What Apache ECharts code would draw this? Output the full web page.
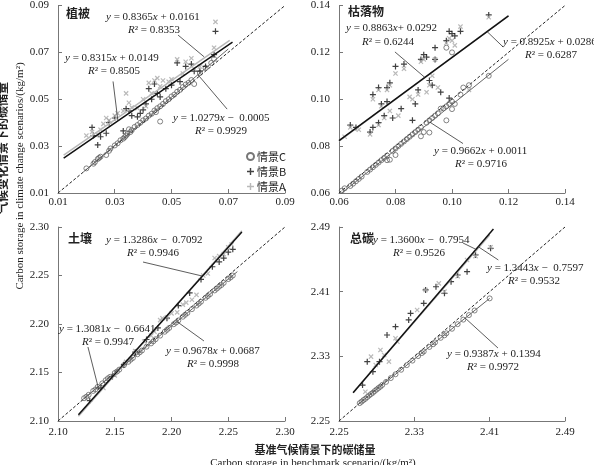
<!DOCTYPE html>
<html>
<head>
<meta charset="utf-8">
<script src="https://cdn.jsdelivr.net/npm/echarts@6/dist/echarts.min.js"></script>
<style>
html, body { margin: 0; padding: 0; background: #fff; }
#chart { width: 594px; height: 465px; }
</style>
</head>
<body>
<div id="chart"></div>
<script>
// 植被
var vegC = [[0.020,0.0205],[0.0225,0.0225],[0.023,0.0232],[0.024,0.0245],[0.0245,0.0250],[0.025,0.0255],[0.027,0.0262],[0.028,0.0280],[0.0285,0.0290],[0.030,0.0303],[0.031,0.0312],[0.032,0.0325],[0.033,0.0332],[0.0335,0.0338],[0.034,0.0345],[0.0345,0.0352],[0.035,0.0372],[0.0355,0.0360],[0.036,0.0368],[0.037,0.0382],[0.038,0.0390],[0.039,0.0400],[0.040,0.0410],[0.041,0.0418],[0.042,0.0430],[0.043,0.0438],[0.044,0.0452],[0.0445,0.0445],[0.045,0.0462],[0.046,0.0405],[0.046,0.0470],[0.047,0.0480],[0.048,0.0492],[0.049,0.0500],[0.050,0.0512],[0.051,0.0520],[0.052,0.0532],[0.053,0.0540],[0.054,0.0552],[0.055,0.0563],[0.056,0.0570],[0.057,0.0582],[0.058,0.0565],[0.060,0.0612],[0.062,0.0633],[0.064,0.0655],[0.065,0.0672]];
var vegB = [[0.022,0.0380],[0.0225,0.0345],[0.024,0.0305],[0.025,0.0340],[0.027,0.0355],[0.028,0.0400],[0.030,0.0420],[0.033,0.0365],[0.034,0.0460],[0.035,0.0450],[0.036,0.0430],[0.038,0.0425],[0.039,0.0440],[0.040,0.0455],[0.041,0.0480],[0.042,0.0545],[0.043,0.0500],[0.044,0.0565],[0.045,0.0525],[0.046,0.0510],[0.048,0.0545],[0.050,0.0560],[0.052,0.0655],[0.053,0.0575],[0.055,0.0640],[0.057,0.0650],[0.058,0.0620],[0.060,0.0620],[0.062,0.0640],[0.065,0.0690],[0.0655,0.0790]];
var vegA = [[0.020,0.0345],[0.022,0.0360],[0.024,0.0350],[0.025,0.0370],[0.026,0.0395],[0.027,0.0420],[0.028,0.0410],[0.030,0.0430],[0.031,0.0440],[0.033,0.0450],[0.034,0.0525],[0.035,0.0485],[0.036,0.0465],[0.038,0.0462],[0.040,0.0500],[0.041,0.0470],[0.042,0.0570],[0.043,0.0525],[0.044,0.0580],[0.045,0.0590],[0.046,0.0555],[0.047,0.0580],[0.049,0.0575],[0.050,0.0585],[0.052,0.0670],[0.054,0.0610],[0.055,0.0660],[0.057,0.0675],[0.058,0.0630],[0.060,0.0640],[0.065,0.0720],[0.0655,0.0830]];

// 枯落物
var litC = [[0.061,0.0610],[0.062,0.0620],[0.064,0.0630],[0.065,0.0640],[0.066,0.0650],[0.067,0.0660],[0.068,0.0670],[0.070,0.0690],[0.071,0.0700],[0.072,0.0710],[0.073,0.0720],[0.074,0.0730],[0.075,0.0740],[0.076,0.0750],[0.077,0.0740],[0.077,0.0760],[0.078,0.0742],[0.079,0.0780],[0.080,0.0790],[0.080,0.0762],[0.081,0.0800],[0.082,0.0810],[0.083,0.0820],[0.084,0.0830],[0.085,0.0840],[0.086,0.0850],[0.087,0.0860],[0.088,0.0870],[0.089,0.0880],[0.089,0.0842],[0.090,0.0860],[0.091,0.0900],[0.092,0.0858],[0.092,0.0910],[0.093,0.0920],[0.094,0.0930],[0.095,0.0940],[0.096,0.0960],[0.097,0.0962],[0.098,0.0910],[0.098,0.0970],[0.099,0.0980],[0.100,0.0958],[0.100,0.0990],[0.101,0.0980],[0.103,0.1020],[0.104,0.1050],[0.106,0.1060],[0.113,0.1100],[0.100,0.1200],[0.098,0.1220]];
var litB = [[0.064,0.0890],[0.066,0.0880],[0.071,0.0860],[0.072,0.0880],[0.072,0.1020],[0.074,0.1050],[0.074,0.0900],[0.075,0.0980],[0.076,0.0930],[0.077,0.1050],[0.077,0.0990],[0.078,0.1070],[0.079,0.0920],[0.080,0.1140],[0.082,0.0960],[0.083,0.1150],[0.086,0.0910],[0.087,0.0980],[0.088,0.1040],[0.089,0.1170],[0.090,0.1190],[0.091,0.1180],[0.092,0.1080],[0.093,0.1060],[0.094,0.1220],[0.094,0.1170],[0.096,0.1030],[0.098,0.1250],[0.099,0.1290],[0.099,0.1005],[0.100,0.1280],[0.101,0.1270],[0.103,0.1290],[0.113,0.1360]];
var litA = [[0.062,0.0840],[0.064,0.0880],[0.067,0.0870],[0.071,0.0850],[0.072,0.1000],[0.074,0.1040],[0.074,0.0890],[0.075,0.0970],[0.076,0.0920],[0.077,0.1040],[0.078,0.0950],[0.078,0.1060],[0.080,0.1110],[0.081,0.0930],[0.083,0.1130],[0.085,0.1010],[0.086,0.1000],[0.088,0.1020],[0.089,0.1160],[0.090,0.1170],[0.091,0.1030],[0.092,0.1060],[0.093,0.1100],[0.094,0.1170],[0.095,0.1050],[0.098,0.1240],[0.099,0.1260],[0.100,0.1250],[0.101,0.1230],[0.103,0.1310],[0.106,0.1040],[0.113,0.1350]];

// 土壤
var soilC = [[2.123,2.1235],[2.125,2.1250],[2.127,2.1270],[2.131,2.1310],[2.133,2.1325],[2.135,2.1352],[2.139,2.1388],[2.142,2.1420],[2.144,2.1440],[2.146,2.1456],[2.150,2.1495],[2.152,2.1510],[2.154,2.1530],[2.158,2.1575],[2.162,2.1610],[2.164,2.1632],[2.166,2.1650],[2.170,2.1688],[2.172,2.1708],[2.174,2.1727],[2.178,2.1766],[2.182,2.1800],[2.184,2.1822],[2.186,2.1843],[2.190,2.1880],[2.194,2.1920],[2.196,2.1940],[2.198,2.1960],[2.202,2.1998],[2.204,2.2015],[2.206,2.2037],[2.210,2.2075],[2.212,2.2095],[2.214,2.2114],[2.218,2.2153],[2.222,2.2190],[2.224,2.2210],[2.226,2.2230],[2.230,2.2270],[2.232,2.2288],[2.234,2.2308],[2.238,2.2346],[2.240,2.2365],[2.242,2.2385],[2.244,2.2402],[2.246,2.2424],[2.250,2.2463],[2.252,2.2480],[2.254,2.2500]];
var soilB = [[2.128,2.1210],[2.138,2.1340],[2.148,2.1460],[2.158,2.1580],[2.168,2.1710],[2.178,2.1840],[2.188,2.1960],[2.196,2.2060],[2.206,2.2190],[2.216,2.2320],[2.226,2.2460],[2.236,2.2590],[2.242,2.2640],[2.246,2.2680],[2.250,2.2740],[2.254,2.2770]];
var soilA = [[2.140,2.1340],[2.150,2.1470],[2.160,2.1610],[2.168,2.1720],[2.176,2.1820],[2.182,2.1880],[2.185,2.1920],[2.190,2.2040],[2.192,2.2060],[2.196,2.2070],[2.200,2.2110],[2.205,2.2120],[2.210,2.2200],[2.213,2.2220],[2.218,2.2250],[2.222,2.2300],[2.228,2.2500],[2.232,2.2520],[2.238,2.2680],[2.242,2.2700],[2.246,2.2720],[2.250,2.2790],[2.253,2.2820]];

// 总碳
var totC = [[2.272,2.2721],[2.274,2.2740],[2.276,2.2759],[2.278,2.2775],[2.280,2.2796],[2.282,2.2815],[2.284,2.2834],[2.286,2.2850],[2.288,2.2871],[2.290,2.2890],[2.292,2.2909],[2.294,2.2925],[2.296,2.2947],[2.300,2.2984],[2.305,2.3031],[2.310,2.3078],[2.316,2.3134],[2.322,2.3191],[2.328,2.3247],[2.334,2.3303],[2.338,2.3340],[2.340,2.3360],[2.346,2.3416],[2.350,2.3450],[2.352,2.3472],[2.358,2.3529],[2.362,2.3560],[2.364,2.3585],[2.370,2.3641],[2.376,2.3698],[2.382,2.3754],[2.388,2.3810],[2.394,2.3867],[2.410,2.4017]];
var totB = [[2.275,2.2945],[2.280,2.3234],[2.286,2.3110],[2.293,2.3234],[2.301,2.3564],[2.310,2.3667],[2.324,2.3750],[2.326,2.3832],[2.340,2.3956],[2.342,2.4121],[2.353,2.4161],[2.362,2.4080],[2.369,2.4223],[2.376,2.4306],[2.386,2.4347],[2.395,2.4554],[2.411,2.4636]];
var totA = [[2.278,2.2862],[2.284,2.3296],[2.289,2.3193],[2.294,2.3378],[2.298,2.3316],[2.303,2.3234],[2.310,2.3523],[2.312,2.3481],[2.333,2.3873],[2.342,2.4121],[2.356,2.4203],[2.362,2.4100],[2.376,2.4290],[2.386,2.4492],[2.395,2.4540],[2.411,2.4650]];

// 回归方程: [斜率, 截距, x起, x止, 情景]
var vegFits = [[0.8365, 0.0161, 0.012, 0.0705, 'A'], [0.8315, 0.0149, 0.012, 0.0715, 'B'], [1.0279, -0.0005, 0.019, 0.070, 'C']];
var litFits = [[0.8925, 0.0286, 0.060, 0.120, 'A'], [0.8863, 0.0292, 0.060, 0.120, 'B'], [0.9662, 0.0011, 0.060, 0.120, 'C']];
var soilFits = [[1.3286, -0.7092, 2.118, 2.262, 'A'], [1.3081, -0.6641, 2.118, 2.262, 'B'], [0.9678, 0.0687, 2.120, 2.258, 'C']];
var totFits = [[1.3443, -0.7597, 2.265, 2.410, 'A'], [1.3600, -0.7954, 2.265, 2.414, 'B'], [0.9387, 0.1394, 2.270, 2.410, 'C']];

// 坐标轴范围
var axisMin = [0.01, 0.06, 2.10, 2.25];
var axisMax = [0.09, 0.14, 2.30, 2.49];
var axisStep = [0.02, 0.02, 0.05, 0.08];

var panelNames = ['植被', '枯落物', '土壤', '总碳'];

// 标注文字
var labels = [
    ['{i|y} = 0.8365{i|x} + 0.0161', 106, 17], ['{i|R}² = 0.8353', 128, 30],
    ['{i|y} = 0.8315{i|x} + 0.0149', 65, 58], ['{i|R}² = 0.8505', 88, 71],
    ['{i|y} = 1.0279{i|x} −  0.0005', 173, 118], ['{i|R}² = 0.9929', 195, 131],
    ['{i|y} = 0.8863{i|x}+ 0.0292', 346, 28], ['{i|R}² = 0.6244', 362, 42],
    ['{i|y} = 0.8925{i|x} + 0.0286', 503, 42], ['{i|R}² = 0.6287', 525, 55],
    ['{i|y} = 0.9662{i|x} + 0.0011', 434, 151], ['{i|R}² = 0.9716', 455, 164],
    ['{i|y} = 1.3286{i|x} −  0.7092', 106, 240], ['{i|R}² = 0.9946', 127, 253],
    ['{i|y} = 1.3081{i|x} −  0.6641', 59, 329], ['{i|R}² = 0.9947', 82, 342],
    ['{i|y} = 0.9678{i|x} + 0.0687', 166, 351], ['{i|R}² = 0.9998', 187, 364],
    ['{i|y} = 1.3600{i|x} −  0.7954', 373, 240], ['{i|R}² = 0.9526', 393, 253],
    ['{i|y} = 1.3443{i|x} −  0.7597', 487, 268], ['{i|R}² = 0.9532', 508, 281],
    ['{i|y} = 0.9387{i|x} + 0.1394', 447, 354], ['{i|R}² = 0.9972', 467, 367]
];
var titlePos = [[66, 13], [348, 11], [68, 238], [350, 238]];

// 引线 (数据坐标)
var leaders = [
    [[[0.0523, 0.0774], [0.0615, 0.0681]], [[0.0294, 0.0576], [0.0311, 0.0410]], [[0.0696, 0.0458], [0.0593, 0.0605]]],
    [[[0.0798, 0.1202], [0.0904, 0.1093]], [[0.1124, 0.1289], [0.1181, 0.1223]], [[0.0922, 0.0902], [0.1039, 0.0811]]],
    [[[2.1749, 2.2639], [2.2269, 2.2495]], [[2.1264, 2.1763], [2.1360, 2.1320]], [[2.2286, 2.1825], [2.2048, 2.2025]]],
    [[[2.3817, 2.4702], [2.3960, 2.4620]], [[2.3979, 2.4656], [2.4192, 2.4492]], [[2.3840, 2.3773], [2.4188, 2.3403]]]
];

var scatterSets = [[vegC, vegB, vegA], [litC, litB, litA], [soilC, soilB, soilA], [totC, totB, totA]];
var fitSets = [vegFits, litFits, soilFits, totFits];

var SERIF = '"Liberation Serif", "Times New Roman", serif';
var CJK = '"Noto Sans CJK SC", sans-serif';
var PLUS = 'path://M4,0H6V4H10V6H6V10H4V6H0V4H4Z';

var grids = [
    { left: 58, top: 3, width: 227, height: 190 },
    { left: 339, top: 3, width: 226, height: 190 },
    { left: 58, top: 227, width: 227, height: 194 },
    { left: 339, top: 227, width: 226, height: 194 }
];

function makeAxis(i, isX) {
    return {
        type: 'value',
        gridIndex: i,
        min: axisMin[i],
        max: axisMax[i],
        interval: axisStep[i],
        axisLine: { show: true, lineStyle: { color: '#777', width: 1 } },
        axisTick: { show: true, inside: true, length: 4, lineStyle: { color: '#777' } },
        splitLine: { show: false },
        axisLabel: {
            color: '#222',
            fontFamily: SERIF,
            fontSize: 11,
            margin: isX ? (i < 2 ? 4 : 6) : 9,
            formatter: function(v) { return v.toFixed(2); }
        }
    };
}

var styleC = { symbol: 'circle', symbolSize: 5, symbolRotate: 0, itemStyle: { color: 'rgba(255,255,255,0)', borderColor: '#555', borderWidth: 0.9 } };
var styleB = { symbol: PLUS, symbolSize: 6, symbolRotate: 0, itemStyle: { color: '#111' } };
var styleA = { symbol: PLUS, symbolSize: 6, symbolRotate: 45, itemStyle: { color: '#a8a8a8' } };
var scStyles = [styleC, styleB, styleA];
var scNames = ['情景C', '情景B', '情景A'];
var fitColor = { A: '#b8b8b8', B: '#111', C: '#666' };
var fitWidth = { A: 1.5, B: 1.5, C: 1 };

var xAxes = [], yAxes = [], series = [];
for (var i = 0; i < 4; i++) {
    xAxes.push(makeAxis(i, true));
    yAxes.push(makeAxis(i, false));

    // 1:1 参考线
    series.push({
        type: 'line', xAxisIndex: i, yAxisIndex: i, silent: true, symbol: 'none', z: 1,
        data: [[axisMin[i], axisMin[i]], [axisMax[i], axisMax[i]]],
        lineStyle: { color: '#222', width: 1, type: [3, 2] }
    });

    // 散点
    for (var k = 0; k < 3; k++) {
        var st = scStyles[k];
        series.push({
            name: scNames[k], type: 'scatter', xAxisIndex: i, yAxisIndex: i, z: 2,
            symbol: st.symbol, symbolSize: st.symbolSize, symbolRotate: st.symbolRotate,
            itemStyle: st.itemStyle,
            data: scatterSets[i][k]
        });
    }

    // 回归线
    fitSets[i].forEach(function(f) {
        series.push({
            type: 'line', xAxisIndex: i, yAxisIndex: i, silent: true, symbol: 'none', z: 3,
            data: [[f[2], f[0] * f[2] + f[1]], [f[3], f[0] * f[3] + f[1]]],
            lineStyle: { color: fitColor[f[4]], width: fitWidth[f[4]] }
        });
    });

    // 引线
    leaders[i].forEach(function(seg) {
        series.push({
            type: 'line', xAxisIndex: i, yAxisIndex: i, silent: true, symbol: 'none', z: 4,
            data: seg,
            lineStyle: { color: '#333', width: 0.8 }
        });
    });
}

var graphics = [];
labels.forEach(function(l) {
    graphics.push({
        type: 'text', x: l[1], y: l[2], silent: true, z: 10,
        style: {
            text: l[0], fill: '#222', fontFamily: SERIF, fontSize: 11,
            verticalAlign: 'middle', align: 'left',
            rich: { i: { fontStyle: 'italic', fontFamily: SERIF, fontSize: 11, fill: '#222' } }
        }
    });
});
panelNames.forEach(function(n, idx) {
    graphics.push({
        type: 'text', x: titlePos[idx][0], y: titlePos[idx][1], silent: true, z: 10,
        style: { text: n, fill: '#222', fontFamily: CJK, fontSize: 12, fontWeight: 'bold', verticalAlign: 'middle' }
    });
});
// 轴标题
graphics.push({
    type: 'text', x: 2, y: 148, rotation: Math.PI / 2, silent: true,
    style: { text: '气候变化情景下的碳储量', fill: '#222', fontFamily: CJK, fontSize: 12, fontWeight: 'bold', align: 'center', verticalAlign: 'middle' }
});
graphics.push({
    type: 'text', x: 20, y: 176, rotation: Math.PI / 2, silent: true,
    style: { text: 'Carbon storage in climate change scenarios/(kg/m²)', fill: '#222', fontFamily: SERIF, fontSize: 11, align: 'center', verticalAlign: 'middle' }
});
graphics.push({
    type: 'text', x: 315, y: 450, silent: true,
    style: { text: '基准气候情景下的碳储量', fill: '#222', fontFamily: CJK, fontSize: 11, fontWeight: 'bold', align: 'center', verticalAlign: 'middle' }
});
graphics.push({
    type: 'text', x: 313, y: 463, silent: true,
    style: { text: 'Carbon storage in benchmark scenario/(kg/m²)', fill: '#222', fontFamily: SERIF, fontSize: 11, align: 'center', verticalAlign: 'middle' }
});

var myChart = echarts.init(document.getElementById('chart'));
myChart.setOption({
    animation: false,
    backgroundColor: '#fff',
    grid: grids,
    xAxis: xAxes,
    yAxis: yAxes,
    legend: {
        orient: 'vertical',
        left: 241,
        top: 146,
        itemGap: 4,
        itemWidth: 7,
        itemHeight: 7,
        selectedMode: false,
        data: scNames,
        textStyle: { fontFamily: CJK, fontSize: 11, color: '#222', padding: [0, 0, 0, -2] }
    },
    series: series,
    graphic: graphics
});
</script>
</body>
</html>
